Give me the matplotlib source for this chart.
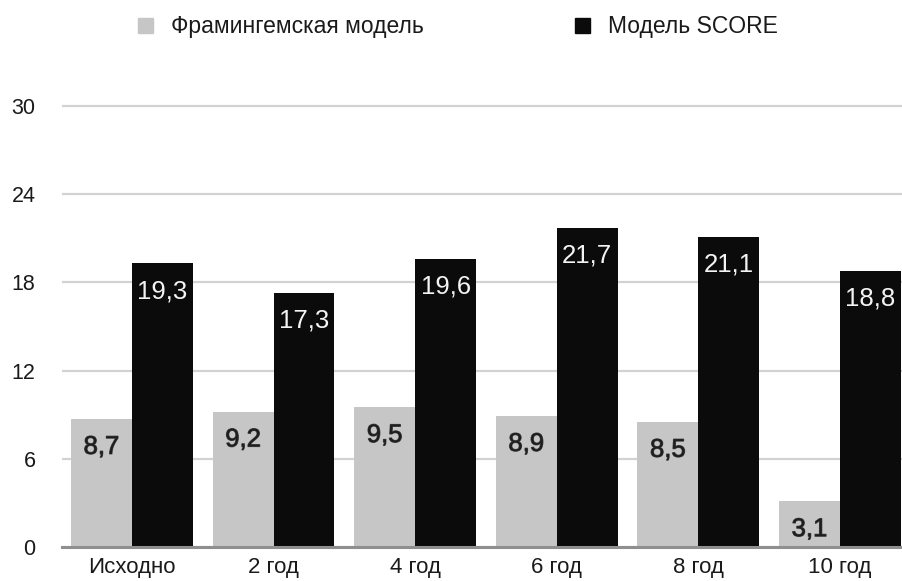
import matplotlib.pyplot as plt
import matplotlib.patheffects as pe
from matplotlib.patches import Rectangle
import numpy as np

categories = ['Исходно', '2 год', '4 год', '6 год', '8 год', '10 год']
framingham = [8.7, 9.2, 9.5, 8.9, 8.5, 3.1]
score = [19.3, 17.3, 19.6, 21.7, 21.1, 18.8]
series_names = ['Фрамингемская модель', 'Модель SCORE']
yticks = [0, 6, 12, 18, 24, 30]

gray = '#c6c6c6'
black = '#0b0b0b'

plt.rcParams['font.family'] = 'Liberation Sans'

fig = plt.figure(figsize=(9.03, 5.81), dpi=100)
ax = fig.add_axes([62 / 903, 34 / 581, 1 - 62 / 903, 31 * 14.7 / 581])

x = np.arange(len(categories))
w = 0.43
ax.bar(x - w / 2, framingham, w, color=gray, zorder=2)
ax.bar(x + w / 2, score, w, color=black, zorder=2)

# value labels sit inside the top of each bar
for xi, v in zip(x - w / 2, framingham):
    ax.annotate(f'{v:.1f}'.replace('.', ','), (xi, v), xytext=(0, -20),
                textcoords='offset points', ha='center', va='center',
                fontsize=18.5, color='#1e1e1e', zorder=3,
                path_effects=[pe.withStroke(linewidth=0.8, foreground='#4a4a4a')])
for xi, v in zip(x + w / 2, score):
    ax.annotate(f'{v:.1f}'.replace('.', ','), (xi, v), xytext=(0, -20),
                textcoords='offset points', ha='center', va='center',
                fontsize=18.5, color='#f4f4f4', zorder=3)

ax.set_xlim(-0.494, 5.445)
ax.set_ylim(0, 31)
ax.set_yticks(yticks)
ax.set_yticklabels([str(t) for t in yticks])
ax.set_xticks(x)
ax.set_xticklabels(categories)
ax.tick_params(axis='y', length=0, pad=19, labelsize=15.5, labelcolor='#1a1a1a')
ax.tick_params(axis='x', length=0, pad=7, labelsize=16, labelcolor='#1a1a1a')

ax.grid(axis='y', color='#d2d2d2', linewidth=1.6, zorder=0)
ax.set_axisbelow(True)
for side in ['top', 'right', 'left']:
    ax.spines[side].set_visible(False)
ax.spines['bottom'].set_color('#8f8f8f')
ax.spines['bottom'].set_linewidth(2.2)
ax.spines['bottom'].set_zorder(4)

# legend drawn in figure pixels along the top
H = 581
for px, color, name in [(138, gray, series_names[0]), (575, black, series_names[1])]:
    fig.add_artist(Rectangle((px / 903, (H - 33) / H), 15 / 903, 15 / H,
                             transform=fig.transFigure, color=color))
    fig.text((px + 33) / 903, (H - 27) / H, name, fontsize=16.5,
             color='#1a1a1a', va='center', ha='left')

fig.savefig('out.png', dpi=100)
